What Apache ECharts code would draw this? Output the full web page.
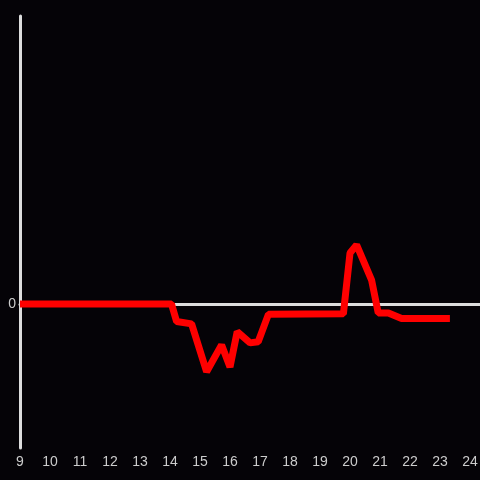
<!DOCTYPE html>
<html>
<head>
<meta charset="utf-8">
<script src="https://cdn.jsdelivr.net/npm/echarts@6/dist/echarts.min.js"></script>
<style>
	html, body { margin: 0; padding: 0; background: #050307; }
	#chart { width: 480px; height: 480px; }
</style>
</head>
<body>
<div id="chart"></div>
<script type="text/javascript">
	// hours of day and values
	var hours = [9, 14.05, 14.22, 14.72, 15.22, 15.72, 16.0, 16.24, 16.67, 16.94, 17.28, 19.78, 20.0, 20.22, 20.72, 20.94, 21.28, 21.72, 23.33];
	var values = [0, 0, -0.061, -0.069, -0.235, -0.142, -0.219, -0.096, -0.135, -0.131, -0.036, -0.034, 0.177, 0.205, 0.083, -0.031, -0.031, -0.05, -0.05];
	var xTicks = [9, 24];

	var chart = echarts.init(document.getElementById('chart'));
	var points = hours.map(function (h, i) { return [h, values[i]]; });

	var option = {
		backgroundColor: '#050307',
		animation: false,
		grid: { left: 20, right: 0, top: 16, bottom: 32, outerBoundsMode: 'none' },
		xAxis: [
			{
				type: 'value',
				min: xTicks[0],
				max: xTicks[1] + 1 / 3,
				interval: 1,
				axisLine: { show: false, onZero: false },
				axisTick: { show: false },
				splitLine: { show: false },
				axisLabel: {
					color: '#cccccc',
					fontSize: 14,
					margin: 7,
					formatter: function (v) { return v <= xTicks[1] ? v : ''; }
				}
			},
			{
				// the zero line across the plot
				type: 'value',
				min: xTicks[0],
				max: xTicks[1] + 1 / 3,
				axisLine: { show: true, lineStyle: { color: '#dddddd', width: 3 } },
				axisTick: { show: false },
				axisLabel: { show: false },
				splitLine: { show: false }
			}
		],
		yAxis: {
			type: 'value',
			min: -0.5,
			max: 1,
			interval: 0.5,
			axisLine: { show: true, lineStyle: { color: '#dddddd', width: 3 } },
			axisTick: { show: false },
			splitLine: { show: false },
			axisLabel: {
				color: '#cccccc',
				fontSize: 14,
				margin: 4,
				formatter: function (v) { return v === 0 ? '0' : ''; }
			}
		},
		series: [
			{
				type: 'line',
				data: points,
				symbol: 'none',
				lineStyle: { color: '#ff0000', width: 7 }
			}
		]
	};
	chart.setOption(option);
</script>
</body>
</html>
